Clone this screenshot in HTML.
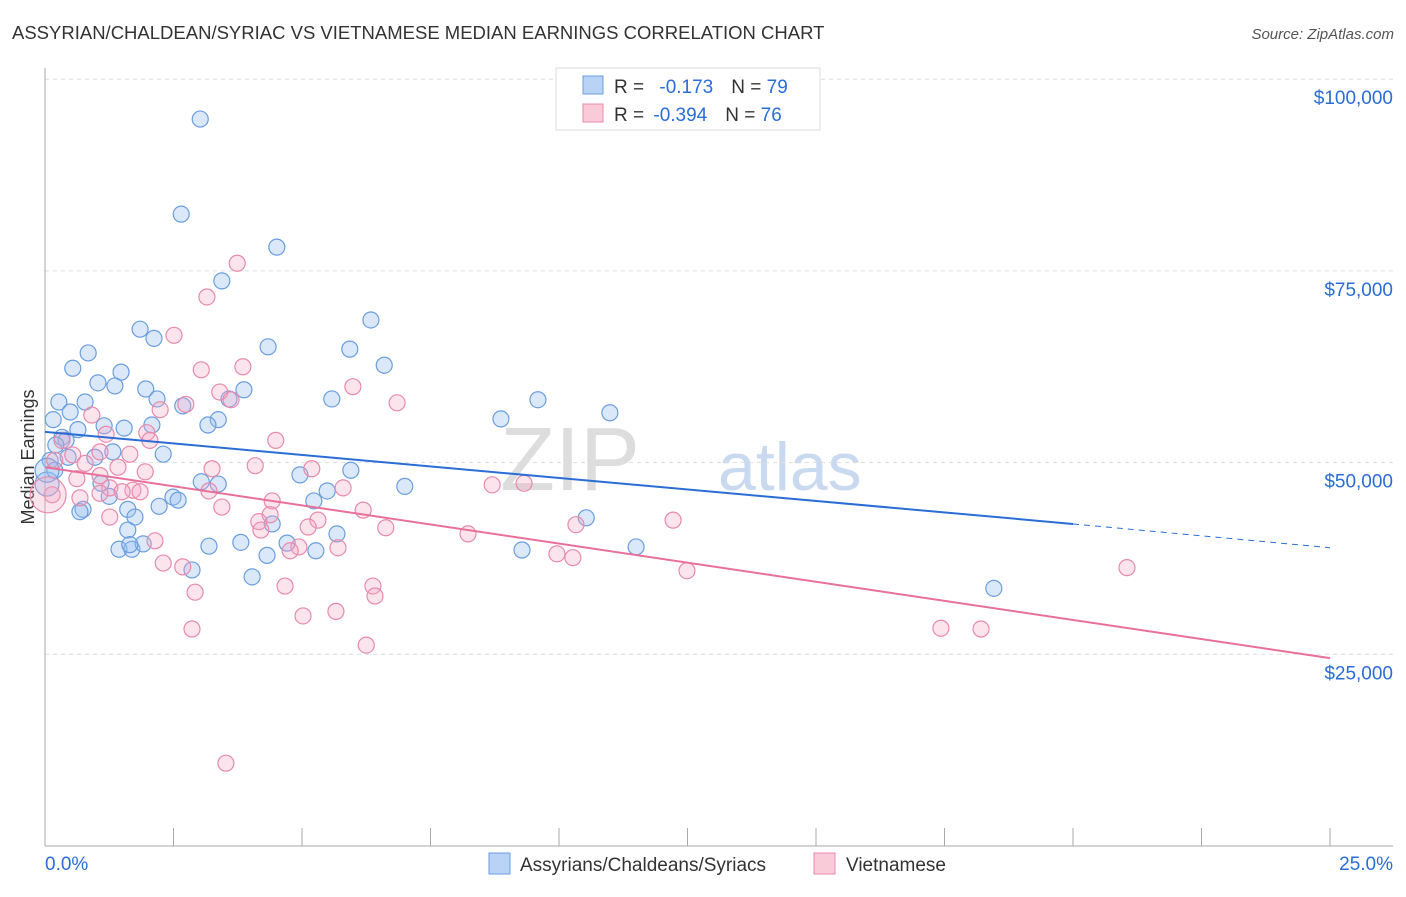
<!DOCTYPE html>
<html><head><meta charset="utf-8"><style>
body{margin:0;background:#fff;font-family:"Liberation Sans",sans-serif;}
svg text{font-family:"Liberation Sans",sans-serif;}
</style></head><body>
<svg id="c" width="1406" height="892">
<text x="12" y="39" font-size="18.5" fill="#333">ASSYRIAN/CHALDEAN/SYRIAC VS VIETNAMESE MEDIAN EARNINGS CORRELATION CHART</text>
<text x="1394" y="39" font-size="15" fill="#555" font-style="italic" text-anchor="end">Source: ZipAtlas.com</text>
<text x="640" y="490" font-size="90" fill="#ddd" font-family="Liberation Serif" text-anchor="end">ZIP</text>
<text x="718" y="490" font-size="68" fill="#c9daf0">atlas</text>
<text transform="translate(34,457) rotate(-90)" font-size="18" fill="#333" text-anchor="middle">Median Earnings</text>
<g id="grid"></g><g id="pts"></g><g id="lines"></g>
<g>
<rect x="556" y="68" width="264" height="62" fill="#fff" stroke="#ddd"/>
<rect x="583" y="76" width="20" height="18" fill="#b8d3f5" stroke="#6a9ee0"/>
<rect x="583" y="104" width="20" height="18" fill="#f9cbd9" stroke="#e88aab"/>
<text x="614" y="93" font-size="19" fill="#333">R = <tspan fill="#2a6dd6" dx="10">-0.173</tspan><tspan dx="18" fill="#333">N = </tspan><tspan fill="#2a6dd6">79</tspan></text>
<text x="614" y="121" font-size="19" fill="#333">R = <tspan fill="#2a6dd6" dx="4">-0.394</tspan><tspan dx="18" fill="#333">N = </tspan><tspan fill="#2a6dd6">76</tspan></text>
</g>
<g>
<rect x="489" y="853" width="21" height="21" fill="#b8d3f5" stroke="#6a9ee0"/>
<text x="520" y="871" font-size="19" fill="#333">Assyrians/Chaldeans/Syriacs</text>
<rect x="814" y="853" width="21" height="21" fill="#f9cbd9" stroke="#e88aab"/>
<text x="846" y="871" font-size="19" fill="#333">Vietnamese</text>
</g>
</svg>
<script>
const blueX=[3.02,2.65,4.51,3.44,1.85,6.34,2.12,0.84,4.34,5.93,0.54,6.60,1.48,1.03,1.36,1.96,3.87,0.27,0.78,2.18,3.58,2.68,5.58,9.59,0.49,0.16,1.15,1.54,2.08,3.37,3.17,8.87,10.99,0.64,0.33,0.41,0.21,1.32,2.30,0.97,0.45,0.10,5.95,4.96,3.04,1.09,7.00,3.37,1.25,2.49,2.59,5.49,5.23,0.74,0.68,2.22,1.61,1.75,10.53,4.42,1.61,3.81,3.19,4.71,1.44,1.69,1.91,5.27,9.28,11.50,4.32,2.86,4.03,18.46,0.04,5.68,1.65,0.19,0.04];
const blueY=[94.8,82.4,78.1,73.7,67.4,68.6,66.2,64.3,65.1,64.8,62.3,62.7,61.8,60.4,60.0,59.6,59.5,57.9,57.9,58.3,58.3,57.4,58.3,58.2,56.6,55.6,54.8,54.5,54.9,55.6,54.9,55.7,56.5,54.3,53.3,52.9,52.3,51.4,51.1,50.7,50.7,50.3,49.0,48.4,47.5,47.3,46.9,47.2,45.6,45.5,45.1,46.3,45.0,43.9,43.6,44.3,43.9,42.9,42.8,42.0,41.2,39.6,39.1,39.5,38.7,38.7,39.4,38.5,38.6,39.0,37.9,36.0,35.1,33.6,47.2,40.7,39.3,49.0,49.0];
const pinkX=[3.52,3.74,3.15,2.51,3.85,3.04,5.99,6.85,3.40,2.74,2.24,0.91,3.62,1.98,2.04,1.19,0.33,4.49,0.54,1.65,1.07,0.78,0.19,1.42,3.25,4.09,5.19,1.95,8.70,9.32,0.62,1.07,1.26,1.71,1.85,1.07,1.50,3.19,5.80,0.14,0.68,4.42,6.19,3.44,4.38,5.31,1.26,4.16,4.20,5.12,6.63,8.23,12.22,10.33,2.14,4.94,4.77,5.70,9.96,10.27,2.30,2.68,12.49,21.05,6.38,6.42,4.67,2.92,5.66,5.02,2.86,6.25,17.43,18.21,0.06];
const pinkY=[10.8,76.0,71.6,66.6,62.5,62.1,59.9,57.8,59.2,57.6,56.9,56.2,58.2,53.9,52.9,53.7,52.9,52.9,51.0,51.1,51.4,49.9,50.3,49.4,49.2,49.6,49.2,48.8,47.1,47.3,47.9,48.3,46.7,46.4,46.2,46.0,46.2,46.3,46.7,45.8,45.4,45.0,43.8,44.2,43.2,42.5,42.9,42.3,41.2,41.6,41.5,40.7,42.5,41.9,39.8,39.0,38.5,38.9,38.1,37.6,36.9,36.4,35.9,36.3,33.9,32.6,33.9,33.1,30.6,30.0,28.3,26.2,28.4,28.3,45.8];
const yTicks=[25,50,75,100];
const yTickLabels=["$25,000","$50,000","$75,000","$100,000"];
const xTicks=[0,2.5,5,7.5,10,12.5,15,17.5,20,22.5,25];
const blueTrend=[54.0,42.0,38.9];
const pinkTrend=[49.4,24.5];
const X=v=>45+v*51.4, Y=v=>846-v*7.668;
const NS="http://www.w3.org/2000/svg";
function mk(t,a,p){const e=document.createElementNS(NS,t);for(const k in a)e.setAttribute(k,a[k]);p.appendChild(e);return e;}
const g=document.getElementById('grid');
yTicks.forEach((v,i)=>{
 const l=mk('line',{x1:45,x2:1393,y1:Y(v),y2:Y(v),stroke:'#ddd','stroke-dasharray':'4,4'},g);
 
 
 const t=mk('text',{x:1393,y:Y(v)+25,'font-size':19,fill:'#2a6dd6','text-anchor':'end'},g);
 t.textContent=yTickLabels[i];
 
 
});
const ax=mk('line',{x1:45,x2:45,y1:68,y2:846,stroke:'#aaa'},g);


const bx=mk('line',{x1:45,x2:1393,y1:846,y2:846,stroke:'#aaa'},g);


xTicks.forEach(v=>{const t=mk('line',{x1:X(v),x2:X(v),y1:828,y2:846,stroke:'#aaa'},g);
 
 });
const l0=mk('text',{x:45,y:870,'font-size':19,fill:'#2a6dd6'},g);l0.textContent='0.0%';


const l1=mk('text',{x:1393,y:870,'font-size':19,fill:'#2a6dd6','text-anchor':'end'},g);l1.textContent='25.0%';


const p=document.getElementById('pts');
blueX.forEach((x,i)=>{const c=mk('circle',{cx:X(x),cy:Y(blueY[i]),r:(i>=74&&x<0.1)?12:8,fill:'rgba(150,190,240,0.35)',stroke:'#6a9ee0','stroke-width':1.2},p);
 
 });
pinkX.forEach((x,i)=>{const c=mk('circle',{cx:X(x),cy:Y(pinkY[i]),r:i==pinkX.length-1?18:8,fill:'rgba(245,165,195,0.3)',stroke:'#e88aab','stroke-width':1.2},p);
 
 });
const L=document.getElementById('lines');
const b1=mk('line',{x1:X(0),y1:Y(blueTrend[0]),x2:X(20),y2:Y(blueTrend[1]),stroke:'#2a6dd6','stroke-width':2},L);


const b2=mk('line',{x1:X(20),y1:Y(blueTrend[1]),x2:X(25),y2:Y(blueTrend[2]),stroke:'#2a6dd6','stroke-width':1,'stroke-dasharray':'6,5'},L);


const pl=mk('line',{x1:X(0),y1:Y(pinkTrend[0]),x2:X(25),y2:Y(pinkTrend[1]),stroke:'#e8709a','stroke-width':2},L);


</script>
</body></html>
